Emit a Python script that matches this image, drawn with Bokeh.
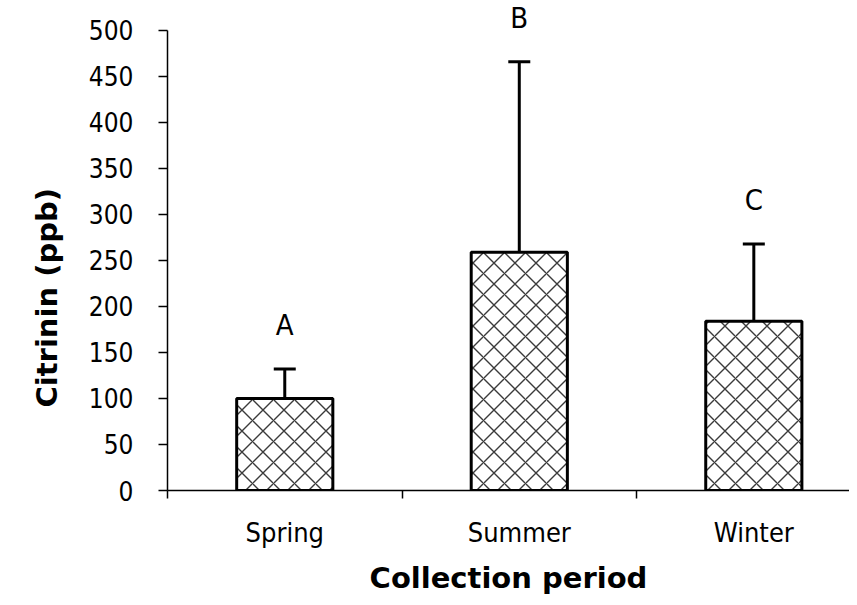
from bokeh.plotting import figure
from bokeh.models import (ColumnDataSource, Range1d, FixedTicker, Whisker, TeeHead, Title)
from bokeh.core.properties import value
from bokeh.embed import file_html
from bokeh.resources import INLINE

categories = ["Spring", "Summer", "Winter"]
citrinin = [100, 259, 184]
error_up = [32, 207, 84]
letters = ["A", "B", "C"]
y_ticks = [0, 50, 100, 150, 200, 250, 300, 350, 400, 450, 500]

FONT = "DejaVu Sans Condensed"
FONT_B = "DejaVu Sans"

xpos = [i + 0.5 for i in range(len(categories))]
upper = [v + e for v, e in zip(citrinin, error_up)]

src = ColumnDataSource(dict(x=xpos, top=citrinin, upper=upper, lower=citrinin,
                            letter=letters))

p = figure(width=849, height=597, output_backend="svg", toolbar_location=None,
           x_range=Range1d(0, 2.908), y_range=Range1d(0, 532.5),
           min_border_left=167, min_border_right=0, min_border_top=0,
           min_border_bottom=106)
p.outline_line_color = None
p.xgrid.grid_line_color = None
p.ygrid.grid_line_color = None
p.background_fill_color = "white"
p.border_fill_color = "white"

p.vbar(x="x", top="top", bottom=0, width=0.41, source=src,
       fill_color="white", line_color="black", line_width=3,
       hatch_pattern="diagonal_cross", hatch_color="#3a3a3a",
       hatch_scale=21, hatch_weight=1.4)

wh = Whisker(base="x", upper="upper", lower="lower", source=src,
             dimension="height", line_color="black", line_width=3,
             upper_head=TeeHead(size=22, line_width=3, line_color="black"),
             lower_head=None)
p.add_layout(wh)

p.text(x="x", y="upper", text="letter", source=src, text_align="center",
       text_baseline="bottom", y_offset=-27, text_font=value(FONT),
       text_font_size="29px", text_color="black")

# y axis
ya = p.yaxis[0]
ya.ticker = FixedTicker(ticks=y_ticks)
ya.bounds = (0, 500)
ya.axis_line_width = 1.5
ya.major_tick_out = 9
ya.major_tick_in = 0
ya.major_tick_line_width = 1.5
ya.minor_tick_line_color = None
ya.major_label_text_font = FONT
ya.major_label_text_font_size = "26px"
ya.major_label_text_color = "black"
ya.major_label_standoff = 25

ytitle = Title(text="Citrinin (ppb)", align="left", offset=83, standoff=40,
               vertical_align="top",
               text_font=FONT_B, text_font_style="bold", text_font_size="29px",
               text_color="black")
p.add_layout(ytitle, "left")

# x axis
xa = p.xaxis[0]
xa.ticker = FixedTicker(ticks=xpos, minor_ticks=[0, 1, 2, 3])
xa.major_label_overrides = {x: c for x, c in zip(xpos, categories)}
xa.axis_line_width = 1.5
xa.major_tick_line_color = None
xa.major_tick_out = 8
xa.major_tick_in = 0
xa.minor_tick_line_color = "black"
xa.minor_tick_line_width = 1.5
xa.minor_tick_out = 8
xa.minor_tick_in = 0
xa.major_label_text_font = FONT
xa.major_label_text_font_size = "27px"
xa.major_label_text_color = "black"
xa.major_label_standoff = 18
xa.axis_label = "Collection period"
xa.axis_label_text_font = FONT_B
xa.axis_label_text_font_style = "bold"
xa.axis_label_text_font_size = "29px"
xa.axis_label_text_color = "black"
xa.axis_label_standoff = 10

open("out.html", "w").write(file_html(p, INLINE))
